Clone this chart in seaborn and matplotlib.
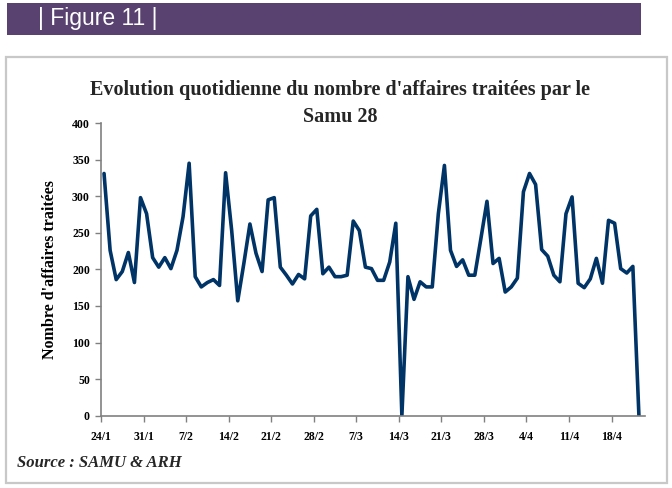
import matplotlib
matplotlib.use("Agg")
import matplotlib.pyplot as plt
from matplotlib.patches import Rectangle
import seaborn as sns
import pandas as pd
import numpy as np

# ---- data ----
tick_labels = ["24/1", "31/1", "7/2", "14/2", "21/2", "28/2", "7/3", "14/3",
               "21/3", "28/3", "4/4", "11/4", "18/4"]
daily_cases = [331, 226, 186, 197, 223, 182, 298, 276, 216, 203, 216, 201, 226, 272, 345,
               190, 176, 182, 186, 178, 332, 253, 157, 208, 262, 222, 197, 295, 298, 203,
               192, 180, 193, 187, 273, 282, 194, 203, 190, 190, 192, 266, 253, 203, 201,
               185, 185, 210, 263, 0, 190, 159, 183, 176, 176, 276, 342, 226, 204, 213,
               192, 192, 242, 293, 208, 215, 169, 176, 188, 306, 331, 316, 227, 218, 192,
               183, 276, 299, 181, 175, 187, 215, 181, 267, 263, 201, 195, 204, 0]
days = list(range(len(daily_cases)))

df = pd.DataFrame({"day": [d + 0.5 for d in days], "n": daily_cases})

sns.set_theme(style="white")
plt.rcParams["font.family"] = ["Liberation Serif", "DejaVu Serif"]

W, H = 672, 488
fig = plt.figure(figsize=(W / 100, H / 100), dpi=100)

def fx(px):
    return px / W

def fy(py):
    return 1 - py / H

# banner
fig.patches.append(Rectangle((fx(7), fy(35)), fx(641) - fx(7), fy(3) - fy(35),
                             transform=fig.transFigure, facecolor="#5A4270",
                             edgecolor="none", zorder=-2))
fig.text(fx(38), fy(19), "| Figure 11 |", color="white", fontsize=16.5,
         family=["Liberation Sans", "DejaVu Sans"], va="center", ha="left")

# grey frame
fig.patches.append(Rectangle((fx(6), fy(483)), fx(667) - fx(6), fy(57) - fy(483),
                             transform=fig.transFigure, facecolor="white",
                             edgecolor="#C8C8C8", linewidth=1.6, zorder=-1))

ax = fig.add_axes([fx(101), fy(415.7), fx(645) - fx(101), fy(123) - fy(415.7)])
ax.set_zorder(2)
ax.set_facecolor("none")
ax.patch.set_alpha(0)
sns.lineplot(data=df, x="day", y="n", ax=ax, color="#003366", linewidth=2.6)

ax.set_xlim(0, 89.5)
ax.set_ylim(0, 400)
ax.set_yticks(range(0, 401, 50))
ax.set_xticks([7 * i for i in range(len(tick_labels))])
ax.set_xticklabels(tick_labels)
for lab in ax.get_xticklabels() + ax.get_yticklabels():
    lab.set_fontweight("bold")
    lab.set_fontsize(8.5)
    lab.set_color("black")
ax.tick_params(axis="both", which="both", direction="out", length=4, width=1,
               color="#808080", bottom=True, left=True, pad=4)
ax.tick_params(axis="x", pad=7)
for s in ["top", "right"]:
    ax.spines[s].set_visible(False)
for s in ["left", "bottom"]:
    ax.spines[s].set_color("#808080")
    ax.spines[s].set_linewidth(1.2)
ax.set_xlabel("")
ax.set_ylabel("Nombre d'affaires traitées", fontsize=11.5, fontweight="bold",
              labelpad=10, color="black")

fig.text(fx(340), fy(90), "Evolution quotidienne du nombre d'affaires traitées par le",
         ha="center", va="center", fontsize=14.5, fontweight="bold")
fig.text(fx(340), fy(117), "Samu 28", ha="center", va="center",
         fontsize=14.5, fontweight="bold")

fig.text(fx(17), fy(463), "Source : SAMU & ARH", ha="left", va="center",
         fontsize=12, fontweight="bold", fontstyle="italic")

fig.savefig("out.png", dpi=100)
